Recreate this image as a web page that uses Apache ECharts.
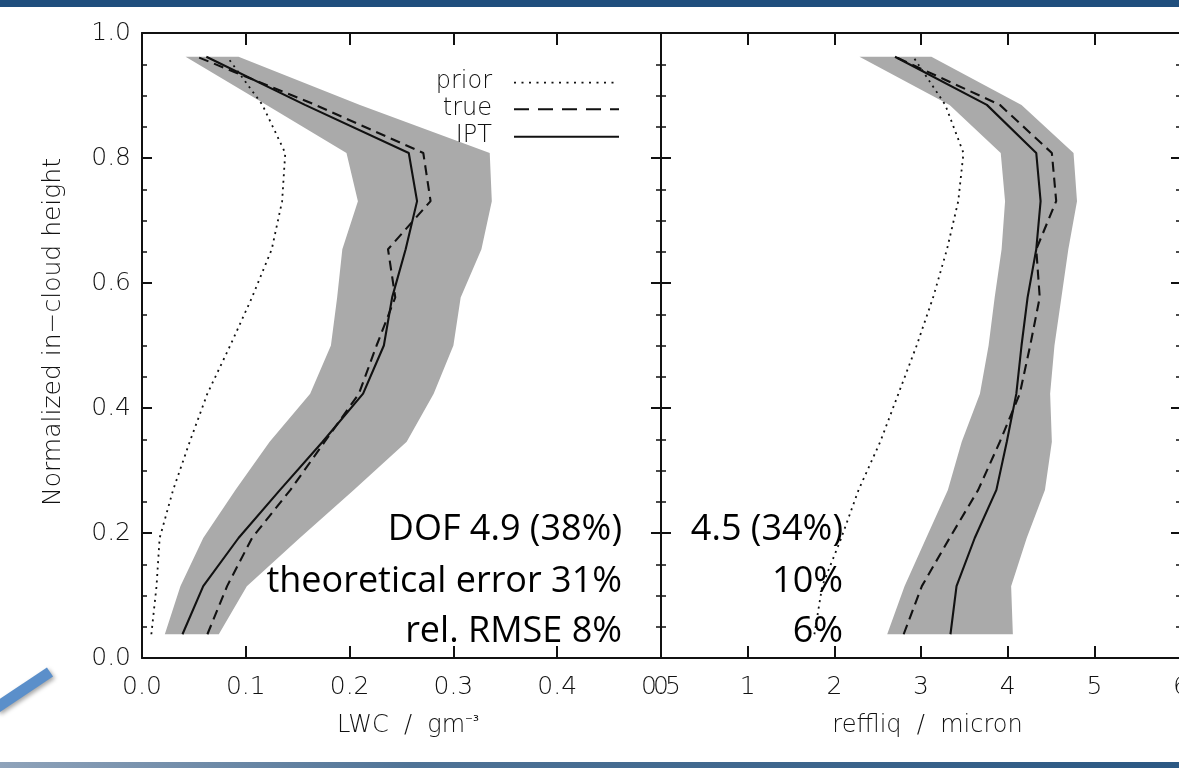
<!DOCTYPE html>
<html>
<head>
<meta charset="utf-8">
<title>LWC and effective radius profiles</title>
<script src="https://cdn.jsdelivr.net/npm/echarts@6/dist/echarts.min.js"></script>
<style>
  html, body { margin: 0; padding: 0; background: #ffffff; }
  #chart { width: 1179px; height: 768px; }
</style>
</head>
<body>
<div id="chart"></div>
<script>
// Normalized in-cloud height of each retrieval level
const heightLevels = [0.038, 0.115, 0.192, 0.269, 0.346, 0.423, 0.500, 0.577, 0.654, 0.731, 0.808, 0.885, 0.962];

// Liquid water content (g m^-3)
const lwcPrior = [0.009, 0.014, 0.017, 0.030, 0.046, 0.063, 0.085, 0.106, 0.125, 0.135, 0.138, 0.116, 0.082];
const lwcTrue  = [0.063, 0.082, 0.106, 0.143, 0.176, 0.209, 0.226, 0.244, 0.237, 0.278, 0.271, 0.167, 0.053];
const lwcIpt   = [0.039, 0.059, 0.093, 0.133, 0.174, 0.213, 0.233, 0.241, 0.254, 0.265, 0.257, 0.157, 0.062];
const lwcLow   = [0.022, 0.037, 0.059, 0.090, 0.123, 0.162, 0.182, 0.188, 0.193, 0.208, 0.197, 0.120, 0.042];
const lwcHigh  = [0.074, 0.101, 0.152, 0.204, 0.255, 0.281, 0.300, 0.307, 0.327, 0.337, 0.335, 0.210, 0.093];

// Effective radius of liquid droplets (micron)
const reffPrior = [1.77, 1.86, 2.08, 2.28, 2.53, 2.74, 2.95, 3.14, 3.30, 3.43, 3.49, 3.28, 2.91];
const reffTrue  = [2.80, 3.01, 3.33, 3.66, 3.91, 4.14, 4.26, 4.37, 4.33, 4.56, 4.51, 3.91, 2.70];
const reffIpt   = [3.34, 3.41, 3.62, 3.87, 3.99, 4.10, 4.16, 4.23, 4.33, 4.38, 4.33, 3.76, 2.70];
const reffLow   = [2.61, 2.81, 3.06, 3.31, 3.47, 3.68, 3.78, 3.85, 3.93, 3.97, 3.92, 3.33, 2.29];
const reffHigh  = [4.06, 4.04, 4.22, 4.43, 4.51, 4.49, 4.54, 4.62, 4.70, 4.80, 4.76, 4.16, 3.12];

// Legend entries and retrieval statistics
const legendNames = ['prior', 'true', 'IPT'];
const lwcStats  = ['DOF 4.9 (38%)', 'theoretical error 31%', 'rel. RMSE 8%'];
const reffStats = ['4.5 (34%)', '10%', '6%'];

const axisFont = '"DejaVu Sans", Lato, sans-serif';
const statFont = '"Open Sans", Lato, sans-serif';
const ink = '#111111';

function pairs(xs) {
  return xs.map((x, i) => [x, heightLevels[i]]);
}

// Shaded uncertainty envelope: one polygon up the lower edge and back down the upper edge
function bandSeries(low, high, xIdx, yIdx) {
  return {
    type: 'custom',
    xAxisIndex: xIdx,
    yAxisIndex: yIdx,
    z: 1,
    silent: true,
    clip: false,
    data: [[low[0], heightLevels[0]]],
    renderItem: function (params, api) {
      const pts = [];
      for (let i = 0; i < heightLevels.length; i++) pts.push(api.coord([low[i], heightLevels[i]]));
      for (let i = heightLevels.length - 1; i >= 0; i--) pts.push(api.coord([high[i], heightLevels[i]]));
      return { type: 'polygon', shape: { points: pts }, style: { fill: '#aaaaaa' } };
    }
  };
}

const lineStyles = {
  prior: { color: ink, width: 1.8, type: [2, 4.5] },
  true: { color: ink, width: 2.1, type: [10, 6] },
  IPT: { color: ink, width: 2.1, type: 'solid' }
};

function profile(name, xs, xIdx, yIdx) {
  return {
    type: 'line',
    name: name,
    xAxisIndex: xIdx,
    yAxisIndex: yIdx,
    z: 3,
    showSymbol: false,
    silent: true,
    data: pairs(xs),
    lineStyle: lineStyles[name]
  };
}

const tickLabel = { color: ink, fontFamily: axisFont, fontWeight: 200, fontSize: 25 };
const axisLine = { show: true, onZero: false, lineStyle: { color: ink, width: 2 } };

function xAxisDef(gridIndex, position, max, withLabels, name, fmt) {
  return {
    type: 'value',
    gridIndex: gridIndex,
    position: position,
    min: 0,
    max: max,
    interval: gridIndex === 0 ? 0.1 : 1,
    axisLine: axisLine,
    axisTick: { show: true, inside: true, length: 12, lineStyle: { color: ink, width: 2 } },
    axisLabel: withLabels ? Object.assign({ margin: 17, showMaxLabel: true, showMinLabel: true, formatter: fmt }, tickLabel) : { show: false },
    splitLine: { show: false },
    name: withLabels ? name : '',
    nameLocation: 'middle',
    nameGap: 56,
    nameTextStyle: {
      color: ink, fontFamily: axisFont, fontWeight: 200, fontSize: 24, padding: [0, 0, 0, 13],
      rich: { sup: { color: ink, fontFamily: '"DejaVu Sans", sans-serif', fontWeight: 400, fontSize: 15, padding: [0, 0, 8, 0] } }
    }
  };
}

function yAxisDef(gridIndex, position, withLabels) {
  return {
    type: 'value',
    gridIndex: gridIndex,
    position: position,
    min: 0,
    max: 1,
    interval: 0.2,
    axisLine: axisLine,
    axisTick: { show: true, inside: true, length: 10, lineStyle: { color: ink, width: 2 } },
    minorTick: { show: true, splitNumber: 4, length: 5, lineStyle: { color: ink, width: 1.5 } },
    axisLabel: withLabels ? Object.assign({ margin: 11, formatter: v => v.toFixed(1) }, tickLabel) : { show: false },
    splitLine: { show: false },
    minorSplitLine: { show: false }
  };
}

// Legend: label on the left, line sample on the right
const legendGraphics = [];
const legendLineY = [82.7, 109.3, 136.7];
const legendDash = { prior: [2, 5.5], true: [15, 9], IPT: null };
legendNames.forEach((n, i) => {
  legendGraphics.push({
    type: 'text', x: 492, y: legendLineY[i] - 1, z: 10,
    style: { text: n, fill: ink, font: '200 24px ' + axisFont, align: 'right', verticalAlign: 'middle' }
  });
  legendGraphics.push({
    type: 'line', z: 10,
    shape: { x1: 514, y1: legendLineY[i], x2: 619, y2: legendLineY[i] },
    style: { stroke: ink, lineWidth: lineStyles[n].width, lineDash: legendDash[n] }
  });
});

// Retrieval statistics printed inside each panel
const statY = [530, 581.5, 631.5];
const statGraphics = [];
lwcStats.forEach((t, i) => {
  statGraphics.push({
    type: 'text', x: 622, y: statY[i], z: 10,
    style: { text: t, fill: '#000', font: '36px ' + statFont, align: 'right', verticalAlign: 'middle' }
  });
});
reffStats.forEach((t, i) => {
  statGraphics.push({
    type: 'text', x: 843, y: statY[i], z: 10,
    style: { text: t, fill: '#000', font: '36px ' + statFont, align: 'right', verticalAlign: 'middle' }
  });
});

// Slide frame: header bar, footer bar, accent stroke and the shared height title
const frameGraphics = [
  { type: 'rect', shape: { x: 0, y: 0, width: 1179, height: 7 }, style: { fill: '#1f4e7d' }, z: 0 },
  {
    type: 'rect', shape: { x: 0, y: 762, width: 1179, height: 6 }, z: 0,
    style: {
      fill: new echarts.graphic.LinearGradient(0, 0, 1, 0, [
        { offset: 0, color: '#8fa3ba' }, { offset: 0.35, color: '#4f7396' }, { offset: 1, color: '#2b5883' }
      ])
    }
  },
  {
    type: 'line', z: 0,
    shape: { x1: -4, y1: 708, x2: 50, y2: 672 },
    style: { stroke: '#5b8fca', lineWidth: 11, shadowBlur: 4, shadowColor: 'rgba(0,0,0,0.35)', shadowOffsetX: 2, shadowOffsetY: 2 }
  },
  {
    type: 'text', x: 53, y: 332, rotation: Math.PI / 2, z: 10,
    style: { text: 'Normalized in\u2212cloud height', fill: ink, font: '200 25px ' + axisFont, align: 'center', verticalAlign: 'middle' }
  }
];

const chart = echarts.init(document.getElementById('chart'), null, { renderer: 'canvas' });
chart.setOption({
  animation: false,
  backgroundColor: '#ffffff',
  grid: [
    { left: 142, top: 33, width: 519, height: 625, outerBoundsMode: 'none', containLabel: false },
    { left: 661, top: 33, width: 520, height: 625, outerBoundsMode: 'none', containLabel: false }
  ],
  xAxis: [
    xAxisDef(0, 'bottom', 0.5, true, 'LWC  /  gm{sup|\u207B\u00B3}', v => v.toFixed(1)),
    xAxisDef(0, 'top', 0.5, false),
    xAxisDef(1, 'bottom', 6, true, 'reffliq  /  micron', v => String(v)),
    xAxisDef(1, 'top', 6, false)
  ],
  yAxis: [
    yAxisDef(0, 'left', true),
    yAxisDef(1, 'left', false),
    yAxisDef(0, 'right', false),
    yAxisDef(1, 'right', false)
  ],
  series: [
    bandSeries(lwcLow, lwcHigh, 0, 0),
    profile('prior', lwcPrior, 0, 0),
    profile('true', lwcTrue, 0, 0),
    profile('IPT', lwcIpt, 0, 0),
    bandSeries(reffLow, reffHigh, 2, 1),
    profile('prior', reffPrior, 2, 1),
    profile('true', reffTrue, 2, 1),
    profile('IPT', reffIpt, 2, 1)
  ],
  graphic: frameGraphics.concat(legendGraphics, statGraphics)
});
</script>
</body>
</html>
